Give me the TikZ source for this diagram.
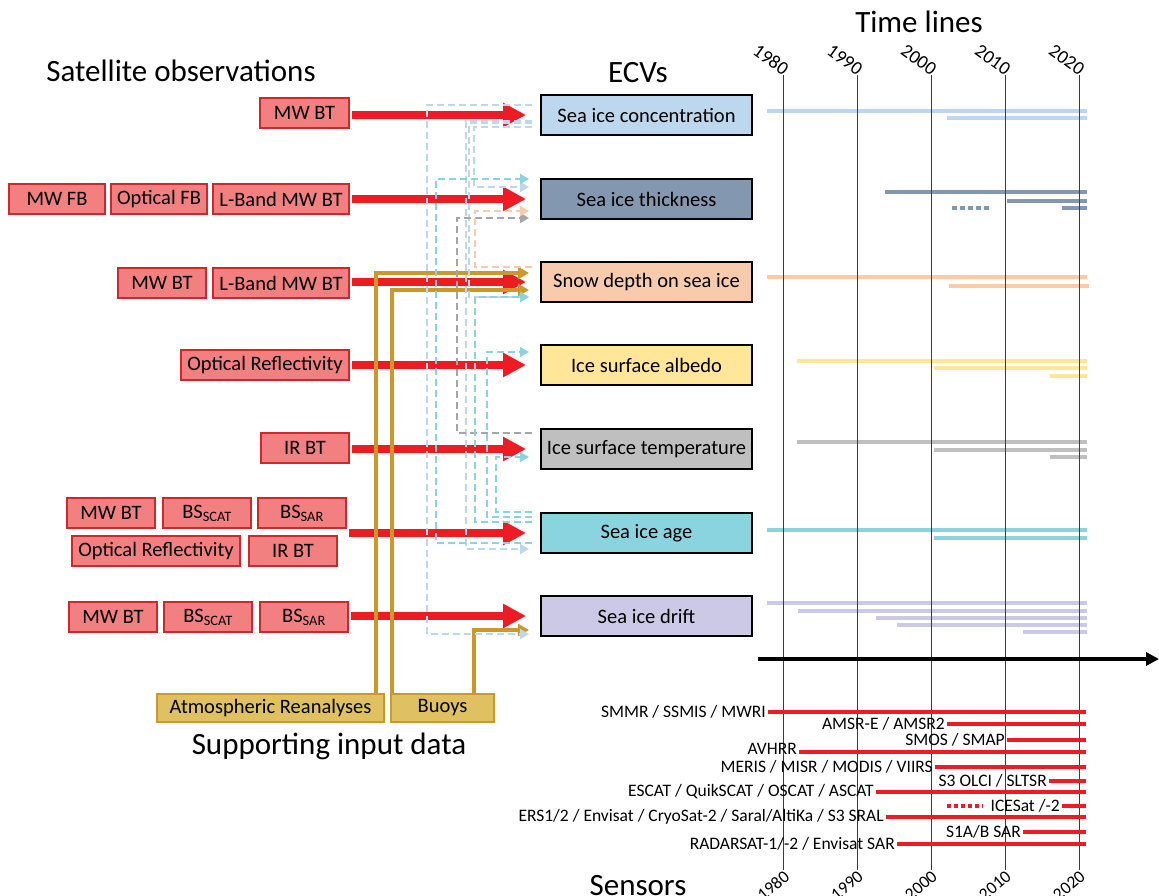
\documentclass[tikz,border=0pt]{standalone}
\usepackage{fontspec}
\setmainfont{Carlito}
\usetikzlibrary{arrows.meta}

\definecolor{obsfill}{RGB}{242,128,128}
\definecolor{obsline}{RGB}{205,40,46}
\definecolor{obsred}{RGB}{237,28,36}
\definecolor{suppfill}{RGB}{224,193,98}
\definecolor{suppline}{RGB}{204,152,42}
\definecolor{sicc}{RGB}{189,215,238}
\definecolor{sitc}{RGB}{132,151,176}
\definecolor{snowc}{RGB}{248,203,173}
\definecolor{albc}{RGB}{255,230,153}
\definecolor{istc}{RGB}{191,191,191}
\definecolor{istdash}{RGB}{166,166,166}
\definecolor{agec}{RGB}{138,212,224}
\definecolor{driftc}{RGB}{204,201,230}
\definecolor{gridc}{RGB}{60,60,60}

\newcommand{\titlesize}{\fontsize{31}{37}\selectfont}
\newcommand{\boxsize}{\fontsize{20.5}{24}\selectfont}
\newcommand{\senssize}{\fontsize{17.5}{20}\selectfont}
\newcommand{\yearsize}{\fontsize{19}{22}\selectfont}

\begin{document}
\begin{tikzpicture}[x=1pt,y=-1pt,
    obs/.style={draw=obsline,fill=obsfill,line width=1.5pt,minimum height=30pt,inner sep=0pt,font=\boxsize},
    ecv/.style={draw=black,line width=2pt,minimum width=211pt,minimum height=40pt,inner sep=0pt,font=\boxsize},
    supp/.style={draw=suppline,fill=suppfill,line width=1.5pt,minimum height=28pt,inner sep=0pt,font=\boxsize},
    heading/.style={font=\titlesize,inner sep=0pt},
    obsarrow/.style={draw=obsred,line width=8pt,-{Triangle[length=23pt,width=23pt]},shorten <=2pt,shorten >=14pt},
    supparrow/.style={draw=suppline,line width=4pt,-{Triangle[length=11pt,width=12pt]},shorten >=11pt},
    link/.style={line width=2pt,dash pattern=on 7pt off 4pt,-{Triangle[length=9pt,width=10pt]},shorten <=8pt,shorten >=11pt},
    bar/.style={line width=4pt},
    sensbar/.style={draw=obsred,line width=4pt},
    sens/.style={font=\senssize,inner sep=2pt},
    year/.style={font=\yearsize,inner sep=1pt}]
  \useasboundingbox (0,0) rectangle (1159,896);

  % headings
  \node[heading] (satobs) at (181,71) {Satellite observations};
  \node[heading] (ecvs) at (638,73) {ECVs};
  \node[heading] (tltitle) at (919,22) {Time lines};
  \node[heading] (suptitle) at (329,746) {Supporting input data};
  \node[heading,anchor=base] (senstitle) at (638,895) {Sensors};

  % ECVs
  \node[ecv,fill=sicc] (sic) at (646.5,115) {Sea ice concentration};
  \node[ecv,fill=sitc] (thick) at (646.5,199) {Sea ice thickness};
  \node[ecv,fill=snowc] (snow) at (646.5,282) {Snow depth on sea ice};
  \node[ecv,fill=albc] (albedo) at (646.5,365) {Ice surface albedo};
  \node[ecv,fill=istc] (ist) at (646.5,449) {Ice surface temperature};
  \node[ecv,fill=agec] (age) at (646.5,533) {Sea ice age};
  \node[ecv,fill=driftc] (drift) at (646.5,616) {Sea ice drift};

  % satellite observations
  \node[obs,minimum width=89pt] (mwbt1) at (304.5,113) {MW BT};
  \node[obs,minimum width=96pt] (mwfb2) at (57,199) {MW FB};
  \node[obs,minimum width=96pt] (optfb2) at (159,199) {Optical FB};
  \node[obs,minimum width=136pt] (lband2) at (281,199) {L-Band MW BT};
  \node[obs,minimum width=88pt] (mwbt3) at (162,283) {MW BT};
  \node[obs,minimum width=136pt] (lband3) at (281,283) {L-Band MW BT};
  \node[obs,minimum width=168pt] (optref4) at (265,365) {Optical Reflectivity};
  \node[obs,minimum width=88pt] (irbt5) at (305,448) {IR BT};
  \node[obs,minimum width=88pt] (mwbt6) at (111,513) {MW BT};
  \node[obs,minimum width=88pt] (bsscat6) at (207,513) {BS\textsubscript{SCAT}};
  \node[obs,minimum width=88pt] (bssar6) at (302,513) {BS\textsubscript{SAR}};
  \node[obs,minimum width=168pt] (optref6) at (156,551) {Optical Reflectivity};
  \node[obs,minimum width=88pt] (irbt6) at (293,551) {IR BT};
  \node[obs,minimum width=88pt] (mwbt7) at (113,617) {MW BT};
  \node[obs,minimum width=88pt] (bsscat7) at (208,617) {BS\textsubscript{SCAT}};
  \node[obs,minimum width=88pt] (bssar7) at (304,617) {BS\textsubscript{SAR}};

  % supporting input data
  \node[supp,minimum width=227pt] (atmos) at (270.5,708) {Atmospheric Reanalyses};
  \node[supp,minimum width=103pt] (buoys) at (442.5,708) {Buoys};

  % retrievals
  \draw[obsarrow] (mwbt1.east |- sic.west) -- (sic.west);
  \draw[obsarrow] (lband2.east |- thick.west) -- (thick.west);
  \draw[obsarrow] (lband3.east |- snow.west) -- (snow.west);
  \draw[obsarrow] (optref4.east |- albedo.west) -- (albedo.west);
  \draw[obsarrow] (irbt5.east |- ist.west) -- (ist.west);
  \draw[obsarrow] (bssar6.east |- age.west) -- (age.west);
  \draw[obsarrow] (bssar7.east |- drift.west) -- (drift.west);

  \draw[supparrow] ([xshift=-9pt]atmos.north east) |- ([yshift=9pt]snow.west);
  \draw[supparrow] ([xshift=2pt]buoys.north west) |- ([yshift=-8pt]snow.west);
  \draw[supparrow] ([xshift=-21pt]buoys.north east) |- ([yshift=-14pt]drift.west);

  % ECV to ECV
  \draw[link,sicc] ([yshift=10pt]sic.west) -| (427,350) |- ([yshift=-18pt]drift.west);
  \draw[link,sicc] ([yshift=-12pt]sic.west) -| (474,150) |- ([yshift=12pt]thick.west);
  \draw[link,sicc] ([yshift=-6pt]sic.west) -| (466,330) |- ([yshift=-16pt]age.west);
  \draw[link,sicc] ([yshift=-8pt]sic.west) -| (469,200) |- ([yshift=-15pt]snow.west);
  \draw[link,istdash] ([yshift=16pt]ist.west) -| (457,320) |- ([yshift=-19pt]thick.west);
  \draw[link,snowc] ([yshift=15pt]snow.west) -| (475,240) |- ([yshift=-12pt]thick.west);
  \draw[link,agec] ([yshift=-10pt]age.west) -| (436,360) |- ([yshift=20pt]thick.west);
  \draw[link,agec] ([yshift=11pt]age.west) -| (475,400) |- ([yshift=-15pt]snow.west);
  \draw[link,agec] ([yshift=16pt]age.west) -| (487,430) |- ([yshift=13pt]albedo.west);
  \draw[link,agec] ([yshift=21pt]age.west) -| (496,480) |- ([yshift=-8pt]ist.west);

  % time lines
  \draw[bar,sicc] (767,111) -- (1087,111);
  \draw[bar,sicc] (947,118) -- (1087,118);
  \draw[bar,sitc] (885,192) -- (1087,192);
  \draw[bar,sitc] (1007,201) -- (1087,201);
  \draw[bar,sitc] (1062,208) -- (1087,208);
  \draw[bar,sitc,dash pattern=on 5pt off 3pt] (952,208) -- (991,208);
  \draw[bar,snowc] (767,277) -- (1087,277);
  \draw[bar,snowc] (949,286) -- (1089,286);
  \draw[bar,albc] (797,361) -- (1087,361);
  \draw[bar,albc] (934,368) -- (1087,368);
  \draw[bar,albc] (1050,376) -- (1087,376);
  \draw[bar,istc] (797,442) -- (1087,442);
  \draw[bar,istc] (934,450) -- (1087,450);
  \draw[bar,istc] (1050,457) -- (1087,457);
  \draw[bar,agec] (767,530) -- (1087,530);
  \draw[bar,agec] (934,538) -- (1087,538);
  \draw[bar,driftc] (767,603) -- (1087,603);
  \draw[bar,driftc] (798,611) -- (1087,611);
  \draw[bar,driftc] (876,618) -- (1087,618);
  \draw[bar,driftc] (897,625) -- (1087,625);
  \draw[bar,driftc] (1023,632) -- (1087,632);

  \foreach \yr/\xx in {1980/783,1990/857,2000/931,2010/1005,2020/1079}{
    \coordinate (yt\yr) at (\xx,75);
    \coordinate (yb\yr) at (\xx,870);
    \draw[gridc,line width=1pt] (yt\yr) -- (yb\yr);
    \node[year,anchor=south east,rotate=-36] (top\yr) at ([yshift=-3pt]yt\yr) {\yr};
    \node[year,font=\senssize,anchor=north east,rotate=40] (bot\yr) at ([yshift=2pt]yb\yr) {\yr};
  }

  \coordinate (axstart) at (758,659);
  \coordinate (axend) at (1159,659);
  \draw[line width=4pt,-{Triangle[length=13pt,width=13pt]}] (axstart) -- (axend);

  % sensors
  \coordinate (tlend) at (1086,0);
  \node[sens,anchor=east] (smmr) at (768,712) {SMMR / SSMIS / MWRI};
  \node[sens,anchor=east] (amsr) at (947,724) {AMSR-E / AMSR2};
  \node[sens,anchor=east] (smos) at (1007,740) {SMOS / SMAP};
  \node[sens,anchor=east] (avhrr) at (799,749) {AVHRR};
  \node[sens,anchor=east] (meris) at (935,767) {MERIS / MISR / MODIS / VIIRS};
  \node[sens,anchor=east] (olci) at (1049,781) {S3 OLCI / SLTSR};
  \node[sens,anchor=east] (escat) at (876,792) {ESCAT / QuikSCAT / OSCAT / ASCAT};
  \node[sens,anchor=east] (icesat) at (1062,806) {ICESat /-2};
  \node[sens,anchor=east] (ers) at (886,817) {ERS1/2 / Envisat / CryoSat-2 / Saral/AltiKa / S3 SRAL};
  \node[sens,anchor=east] (sone) at (1023,832) {S1A/B SAR};
  \node[sens,anchor=east] (radarsat) at (897,844) {RADARSAT-1/-2 / Envisat SAR};

  \draw[sensbar] (smmr.east) -- (smmr.east -| tlend);
  \draw[sensbar] (amsr.east) -- (amsr.east -| tlend);
  \draw[sensbar] (smos.east) -- (smos.east -| tlend);
  \draw[sensbar] ([yshift=-3pt]avhrr.east) -- ([yshift=-3pt]avhrr.east -| tlend);
  \draw[sensbar] (meris.east) -- (meris.east -| tlend);
  \draw[sensbar] (olci.east) -- (olci.east -| tlend);
  \draw[sensbar] (escat.east) -- (escat.east -| tlend);
  \draw[sensbar] (icesat.east) -- (icesat.east -| tlend);
  \draw[sensbar,dash pattern=on 4pt off 3pt] ([xshift=-41pt]icesat.west) -- ([xshift=-5pt]icesat.west);
  \draw[sensbar] (ers.east) -- (ers.east -| tlend);
  \draw[sensbar] (sone.east) -- (sone.east -| tlend);
  \draw[sensbar] (radarsat.east) -- (radarsat.east -| tlend);
\end{tikzpicture}
\end{document}
